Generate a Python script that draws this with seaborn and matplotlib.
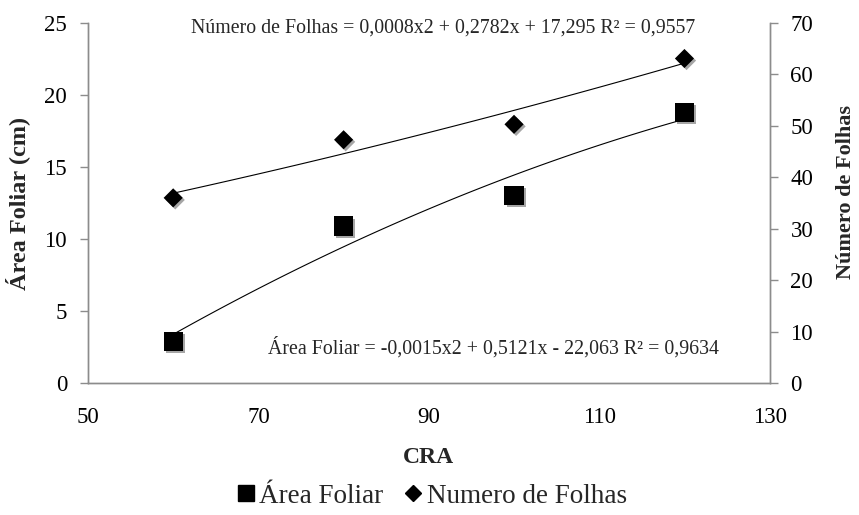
import numpy as np
import pandas as pd
import matplotlib
matplotlib.use("Agg")
import matplotlib.pyplot as plt
import matplotlib.patheffects as pe
from matplotlib.lines import Line2D
import seaborn as sns

cra = [60, 80, 100, 120]
area_foliar = [2.9, 10.9, 13.0, 18.8]
numero_folhas = [36.0, 47.3, 50.3, 63.1]

eq_folhas = "Número de Folhas = 0,0008x2 + 0,2782x + 17,295 R² = 0,9557"
eq_area = "Área Foliar = -0,0015x2 + 0,5121x - 22,063 R² = 0,9634"

df = pd.DataFrame({"CRA": cra, "Area": area_foliar, "Folhas": numero_folhas})

sns.set_theme(style="white")
plt.rcParams["font.family"] = ["Liberation Serif", "DejaVu Serif"]

fig = plt.figure(figsize=(8.59, 5.15), dpi=100)
ax = fig.add_axes([0.1024, 0.2563, 0.7936, 0.699])
ax2 = ax.twinx()

shadow = [pe.SimplePatchShadow(offset=(1.5, -1.5), alpha=0.35), pe.Normal()]

# trendlines (polynomial order 2)
sns.regplot(data=df, x="CRA", y="Area", order=2, ci=None, scatter=False, truncate=True,
            ax=ax, line_kws=dict(color="black", lw=0.8))
sns.regplot(data=df, x="CRA", y="Folhas", order=2, ci=None, scatter=False, truncate=True,
            ax=ax2, line_kws=dict(color="black", lw=0.8))

sns.scatterplot(data=df, x="CRA", y="Area", ax=ax, marker="s", s=190, color="black",
                edgecolor="black", linewidth=0, zorder=5, path_effects=shadow)
sns.scatterplot(data=df, x="CRA", y="Folhas", ax=ax2, marker="D", s=95, color="black",
                edgecolor="black", linewidth=0, zorder=5, path_effects=shadow)

ax.set_xlim(50, 130)
ax.set_ylim(0, 25)
ax2.set_ylim(0, 70)
ax.set_xticks([50, 70, 90, 110, 130])
ax.set_yticks([0, 5, 10, 15, 20, 25])
ax2.set_yticks([0, 10, 20, 30, 40, 50, 60, 70])

for a in (ax, ax2):
    for s in a.spines.values():
        s.set_color("#8c8c8c")
        s.set_linewidth(1.0)
    a.spines["top"].set_visible(False)
    a.tick_params(axis="both", which="both", direction="out", length=6, width=1,
                  color="#8c8c8c", labelsize=16.5, labelcolor="black", pad=9)
ax.tick_params(axis="x", pad=11)

ax.set_xlabel("CRA", fontsize=17, fontweight="bold", labelpad=14)
ax.set_ylabel("Área Foliar (cm)", fontsize=17.5, fontweight="bold", labelpad=10)
ax2.set_ylabel("Número de Folhas", fontsize=16, fontweight="bold")
ax2.yaxis.set_label_coords(1.098, 0.53)

ax.text(0.521, 0.986, eq_folhas, transform=ax.transAxes, fontsize=14.3, ha="center", va="center")
ax.text(0.595, 0.097, eq_area, transform=ax.transAxes, fontsize=14.3, ha="center", va="center")

handles = [Line2D([], [], marker="s", color="black", linestyle="none", markersize=12),
           Line2D([], [], marker="D", color="black", linestyle="none", markersize=8)]
fig.legend(handles, ["Área Foliar", "Numero de Folhas"], loc="center",
           bbox_to_anchor=(0.5, 0.036), ncol=2, frameon=False, fontsize=19.5,
           handletextpad=0.0, columnspacing=0.6, handlelength=1.0)

fig.savefig("out.png", dpi=100)
